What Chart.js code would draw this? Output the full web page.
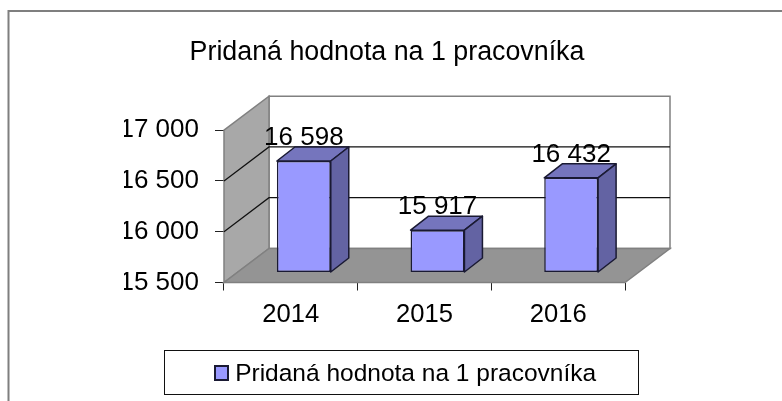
<!DOCTYPE html>
<html>
<head>
<meta charset="utf-8">
<title>Pridaná hodnota na 1 pracovníka</title>
<script src="https://cdn.jsdelivr.net/npm/chart.js@4/dist/chart.umd.min.js"></script>
<style>
  html, body { margin: 0; padding: 0; background: #fff; }
  #wrap { width: 782px; height: 401px; }
</style>
</head>
<body>
<div id="wrap"><canvas id="chart" width="782" height="401"></canvas></div>
<script>
const categories = ['2014', '2015', '2016']
const seriesName = 'Pridaná hodnota na 1 pracovníka'
const seriesValues = [16598, 15917, 16432]
const yTicks = [15500, 16000, 16500, 17000]

const fontFamily = '"Liberation Sans", Arial, sans-serif'
const formatValue = v => String(v).replace(/\B(?=(\d{3})+$)/g, ' ')

// depth of the fake 3D box and of the bars inside it
const wallDx = 45, wallDy = -34
const barShiftX = 13, barShiftY = -10
const barDx = 18, barDy = -14

const poly = (ctx, pts) => {
  ctx.beginPath()
  pts.forEach((p, i) => i ? ctx.lineTo(p[0], p[1]) : ctx.moveTo(p[0], p[1]))
  ctx.closePath()
}

const box3d = {
  id: 'box3d',
  afterLayout(chart) {
    // title and legend are not centred on the canvas in the original
    const t = chart.titleBlock, l = chart.legend
    t.left = 187; t.right = 587
    l.left = 206; l.right = 606
  },
  beforeDraw(chart) {
    const ctx = chart.ctx
    ctx.save()
    // page frame only has a top and a left edge
    ctx.strokeStyle = '#7f7f7f'
    ctx.lineWidth = 2
    ctx.beginPath()
    ctx.moveTo(8.5, 401)
    ctx.lineTo(8.5, 11)
    ctx.lineTo(782, 11)
    ctx.stroke()
    // legend box
    ctx.lineWidth = 1
    ctx.strokeStyle = '#111'
    ctx.strokeRect(164.5, 350.5, 474, 44)
    ctx.restore()
  },
  beforeDatasetsDraw(chart) {
    const ctx = chart.ctx
    const { left, right, top, bottom } = chart.chartArea
    ctx.save()
    ctx.lineWidth = 1.5
    ctx.strokeStyle = '#808080'
    // back wall
    poly(ctx, [[left + wallDx, top + wallDy], [right + wallDx, top + wallDy], [right + wallDx, bottom + wallDy], [left + wallDx, bottom + wallDy]])
    ctx.fillStyle = '#fff'
    ctx.fill()
    ctx.stroke()
    // side wall
    poly(ctx, [[left, top], [left + wallDx, top + wallDy], [left + wallDx, bottom + wallDy], [left, bottom]])
    ctx.fillStyle = '#a8a8a8'
    ctx.fill()
    ctx.stroke()
    // floor
    poly(ctx, [[left, bottom], [right, bottom], [right + wallDx, bottom + wallDy], [left + wallDx, bottom + wallDy]])
    ctx.fillStyle = '#949494'
    ctx.fill()
    ctx.stroke()
    // gridlines follow the y scale
    ctx.strokeStyle = '#111'
    ctx.lineWidth = 1.2
    chart.scales.y.ticks.forEach(t => {
      if (t.value === yTicks[0] || t.value === yTicks[yTicks.length - 1]) return
      const y = chart.scales.y.getPixelForValue(t.value)
      ctx.beginPath()
      ctx.moveTo(left, y)
      ctx.lineTo(left + wallDx, y + wallDy)
      ctx.lineTo(right + wallDx, y + wallDy)
      ctx.stroke()
    })
    ctx.restore()
  },
  beforeDatasetDraw(chart) {
    const ctx = chart.ctx
    const bars = chart.getDatasetMeta(0).data
    ctx.save()
    ctx.translate(barShiftX, barShiftY)
    ctx.lineWidth = 1.5
    ctx.strokeStyle = '#1a1a33'
    ctx.lineJoin = 'round'
    bars.forEach(bar => {
      const { x, y, base, width } = bar.getProps(['x', 'y', 'base', 'width'], true)
      const l = x - width / 2, r = x + width / 2
      poly(ctx, [[l, y], [r, y], [r + barDx, y + barDy], [l + barDx, y + barDy]])
      ctx.fillStyle = '#7575bd'
      ctx.fill()
      ctx.stroke()
      poly(ctx, [[r, y], [r + barDx, y + barDy], [r + barDx, base + barDy], [r, base]])
      ctx.fillStyle = '#6363a3'
      ctx.fill()
      ctx.stroke()
    })
  },
  afterDatasetDraw(chart) {
    const ctx = chart.ctx
    const bars = chart.getDatasetMeta(0).data
    ctx.fillStyle = '#000'
    ctx.font = '26px ' + fontFamily
    ctx.textAlign = 'center'
    ctx.textBaseline = 'alphabetic'
    bars.forEach((bar, i) => {
      const { x, y } = bar.getProps(['x', 'y'], true)
      ctx.fillText(formatValue(seriesValues[i]), x, y - 16)
    })
    ctx.restore()
  },
  afterDraw(chart) {
    // legend swatch: the library ties the text gap to the box width, so the
    // native box stays narrow and gets covered by the full size one
    const ctx = chart.ctx
    ctx.save()
    ctx.fillStyle = '#9999ff'
    ctx.strokeStyle = '#1a1a33'
    ctx.lineWidth = 2
    ctx.fillRect(215, 366, 13, 14)
    ctx.strokeRect(215, 366, 13, 14)
    ctx.restore()
  }
}

new Chart(document.getElementById('chart'), {
  type: 'bar',
  data: {
    labels: categories,
    datasets: [{
      label: seriesName,
      data: seriesValues,
      base: yTicks[0],
      backgroundColor: '#9999ff',
      borderColor: '#1a1a33',
      borderWidth: 1.5,
      borderSkipped: false,
      barPercentage: 0.403,
      categoryPercentage: 1,
      clip: false
    }]
  },
  plugins: [box3d],
  options: {
    responsive: false,
    animation: false,
    layout: { padding: { left: 124, right: 157, top: 0, bottom: 5 } },
    plugins: {
      tooltip: { enabled: false },
      title: {
        display: true,
        text: seriesName,
        color: '#000',
        font: { family: fontFamily, size: 26.8, weight: 'normal', lineHeight: 1.2 },
        padding: { top: 37, bottom: 61 }
      },
      legend: {
        position: 'bottom',
        labels: {
          color: '#000',
          font: { family: fontFamily, size: 24.5 },
          boxWidth: 7,
          boxHeight: 13,
          padding: 5
        }
      }
    },
    scales: {
      x: {
        afterFit(scale) { scale.height = 74 },
        grid: { drawOnChartArea: false, drawTicks: true, tickLength: 8, color: '#222' },
        border: { display: false },
        ticks: { color: '#000', padding: 9, font: { family: fontFamily, size: 25.6 } }
      },
      y: {
        min: yTicks[0],
        max: yTicks[yTicks.length - 1],
        afterFit(scale) { scale.width = 100 },
        afterBuildTicks(scale) { scale.ticks = yTicks.map(value => ({ value })) },
        grid: { drawOnChartArea: false, drawTicks: true, tickLength: 9, color: '#222' },
        border: { display: false },
        ticks: { color: '#000', padding: 16, font: { family: fontFamily, size: 26 }, callback: v => formatValue(v) }
      }
    }
  }
})
</script>
</body>
</html>
